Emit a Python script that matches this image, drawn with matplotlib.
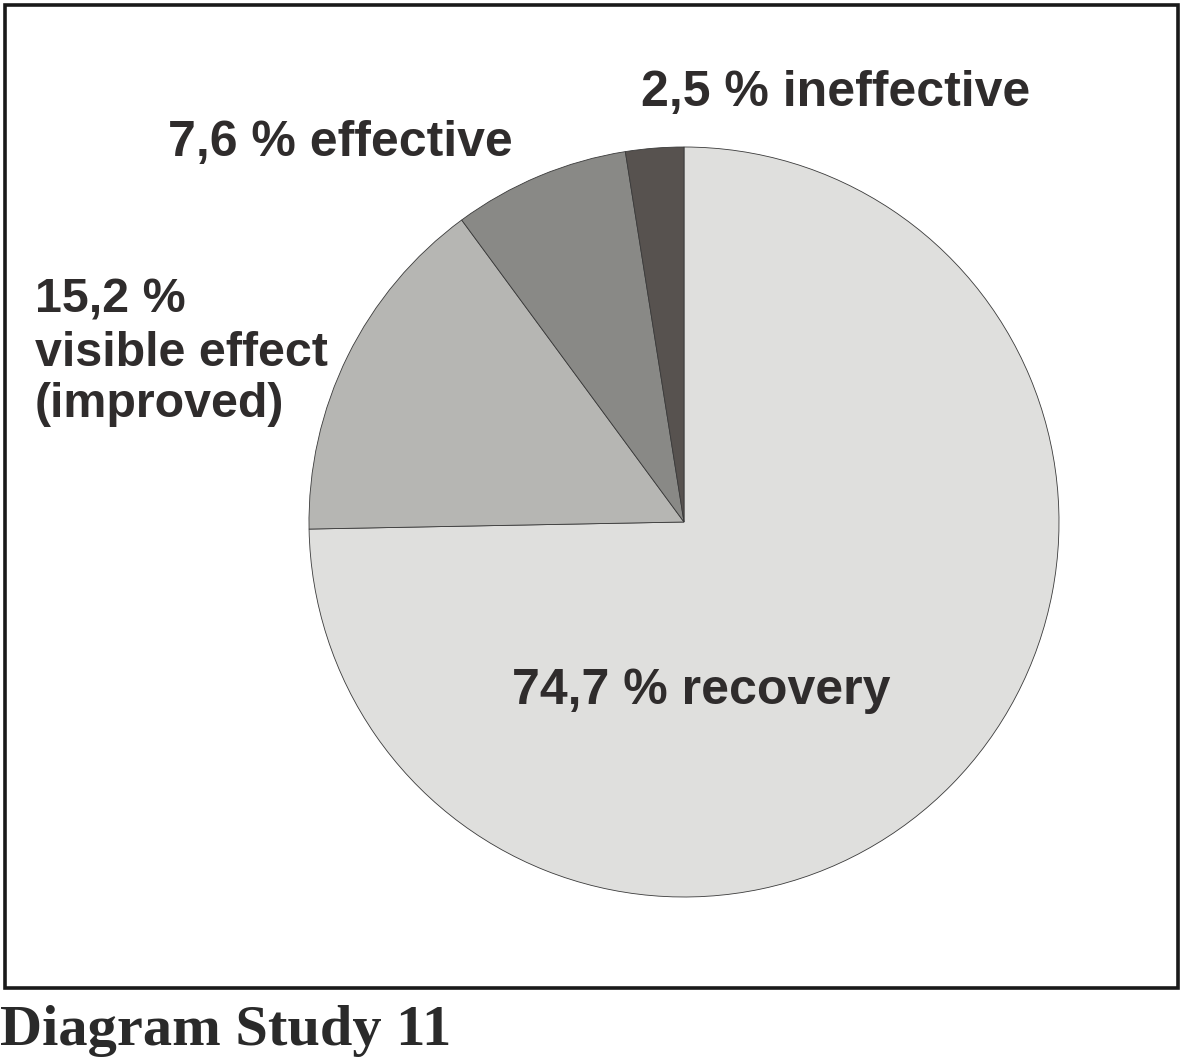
import matplotlib
matplotlib.use('Agg')
import matplotlib.pyplot as plt
from matplotlib.patches import Rectangle

# data
labels = ['74,7 % recovery', '15,2 %\nvisible effect\n(improved)', '7,6 % effective', '2,5 % ineffective']
values = [74.7, 15.2, 7.6, 2.5]
colors = ['#dfdfdd', '#b6b6b3', '#898986', '#57524f']
caption = 'Diagram Study 11'

W, H = 1181, 1064
fig = plt.figure(figsize=(W / 100, H / 100), dpi=100)
ax = fig.add_axes([0, 0, 1, 1])

def py(y):  # pixel row -> data y
    return H - y

ax.pie(values, colors=colors, startangle=90, counterclock=False,
       center=(684, py(522)), radius=375,
       wedgeprops=dict(edgecolor='#3a3a3a', linewidth=0.6))
ax.set_xlim(0, W)
ax.set_ylim(0, H)
ax.set_aspect('equal')
ax.set_axis_off()

# frame round the chart
ax.add_patch(Rectangle((5, py(988)), 1173, 983, fill=False,
                       edgecolor='#1a1a1a', linewidth=2.6))

txt = dict(family='Liberation Sans', weight='bold', color='#2f2c2c')
ax.text(512, py(704), labels[0], ha='left', va='baseline', fontsize=36, **txt)
# multi-line label, one baseline per line
for line, yb in zip(labels[1].split('\n'), [312, 366, 417]):
    ax.text(35, py(yb), line, ha='left', va='baseline', fontsize=34.8, **txt)
ax.text(168, py(156), labels[2], ha='left', va='baseline', fontsize=36, **txt)
ax.text(641, py(106), labels[3], ha='left', va='baseline', fontsize=36, **txt)

ax.text(0, py(1045), caption, ha='left', va='baseline', family='Liberation Serif',
        weight='bold', color='#2a2a2a', fontsize=42)

fig.savefig('out.png', dpi=100)
